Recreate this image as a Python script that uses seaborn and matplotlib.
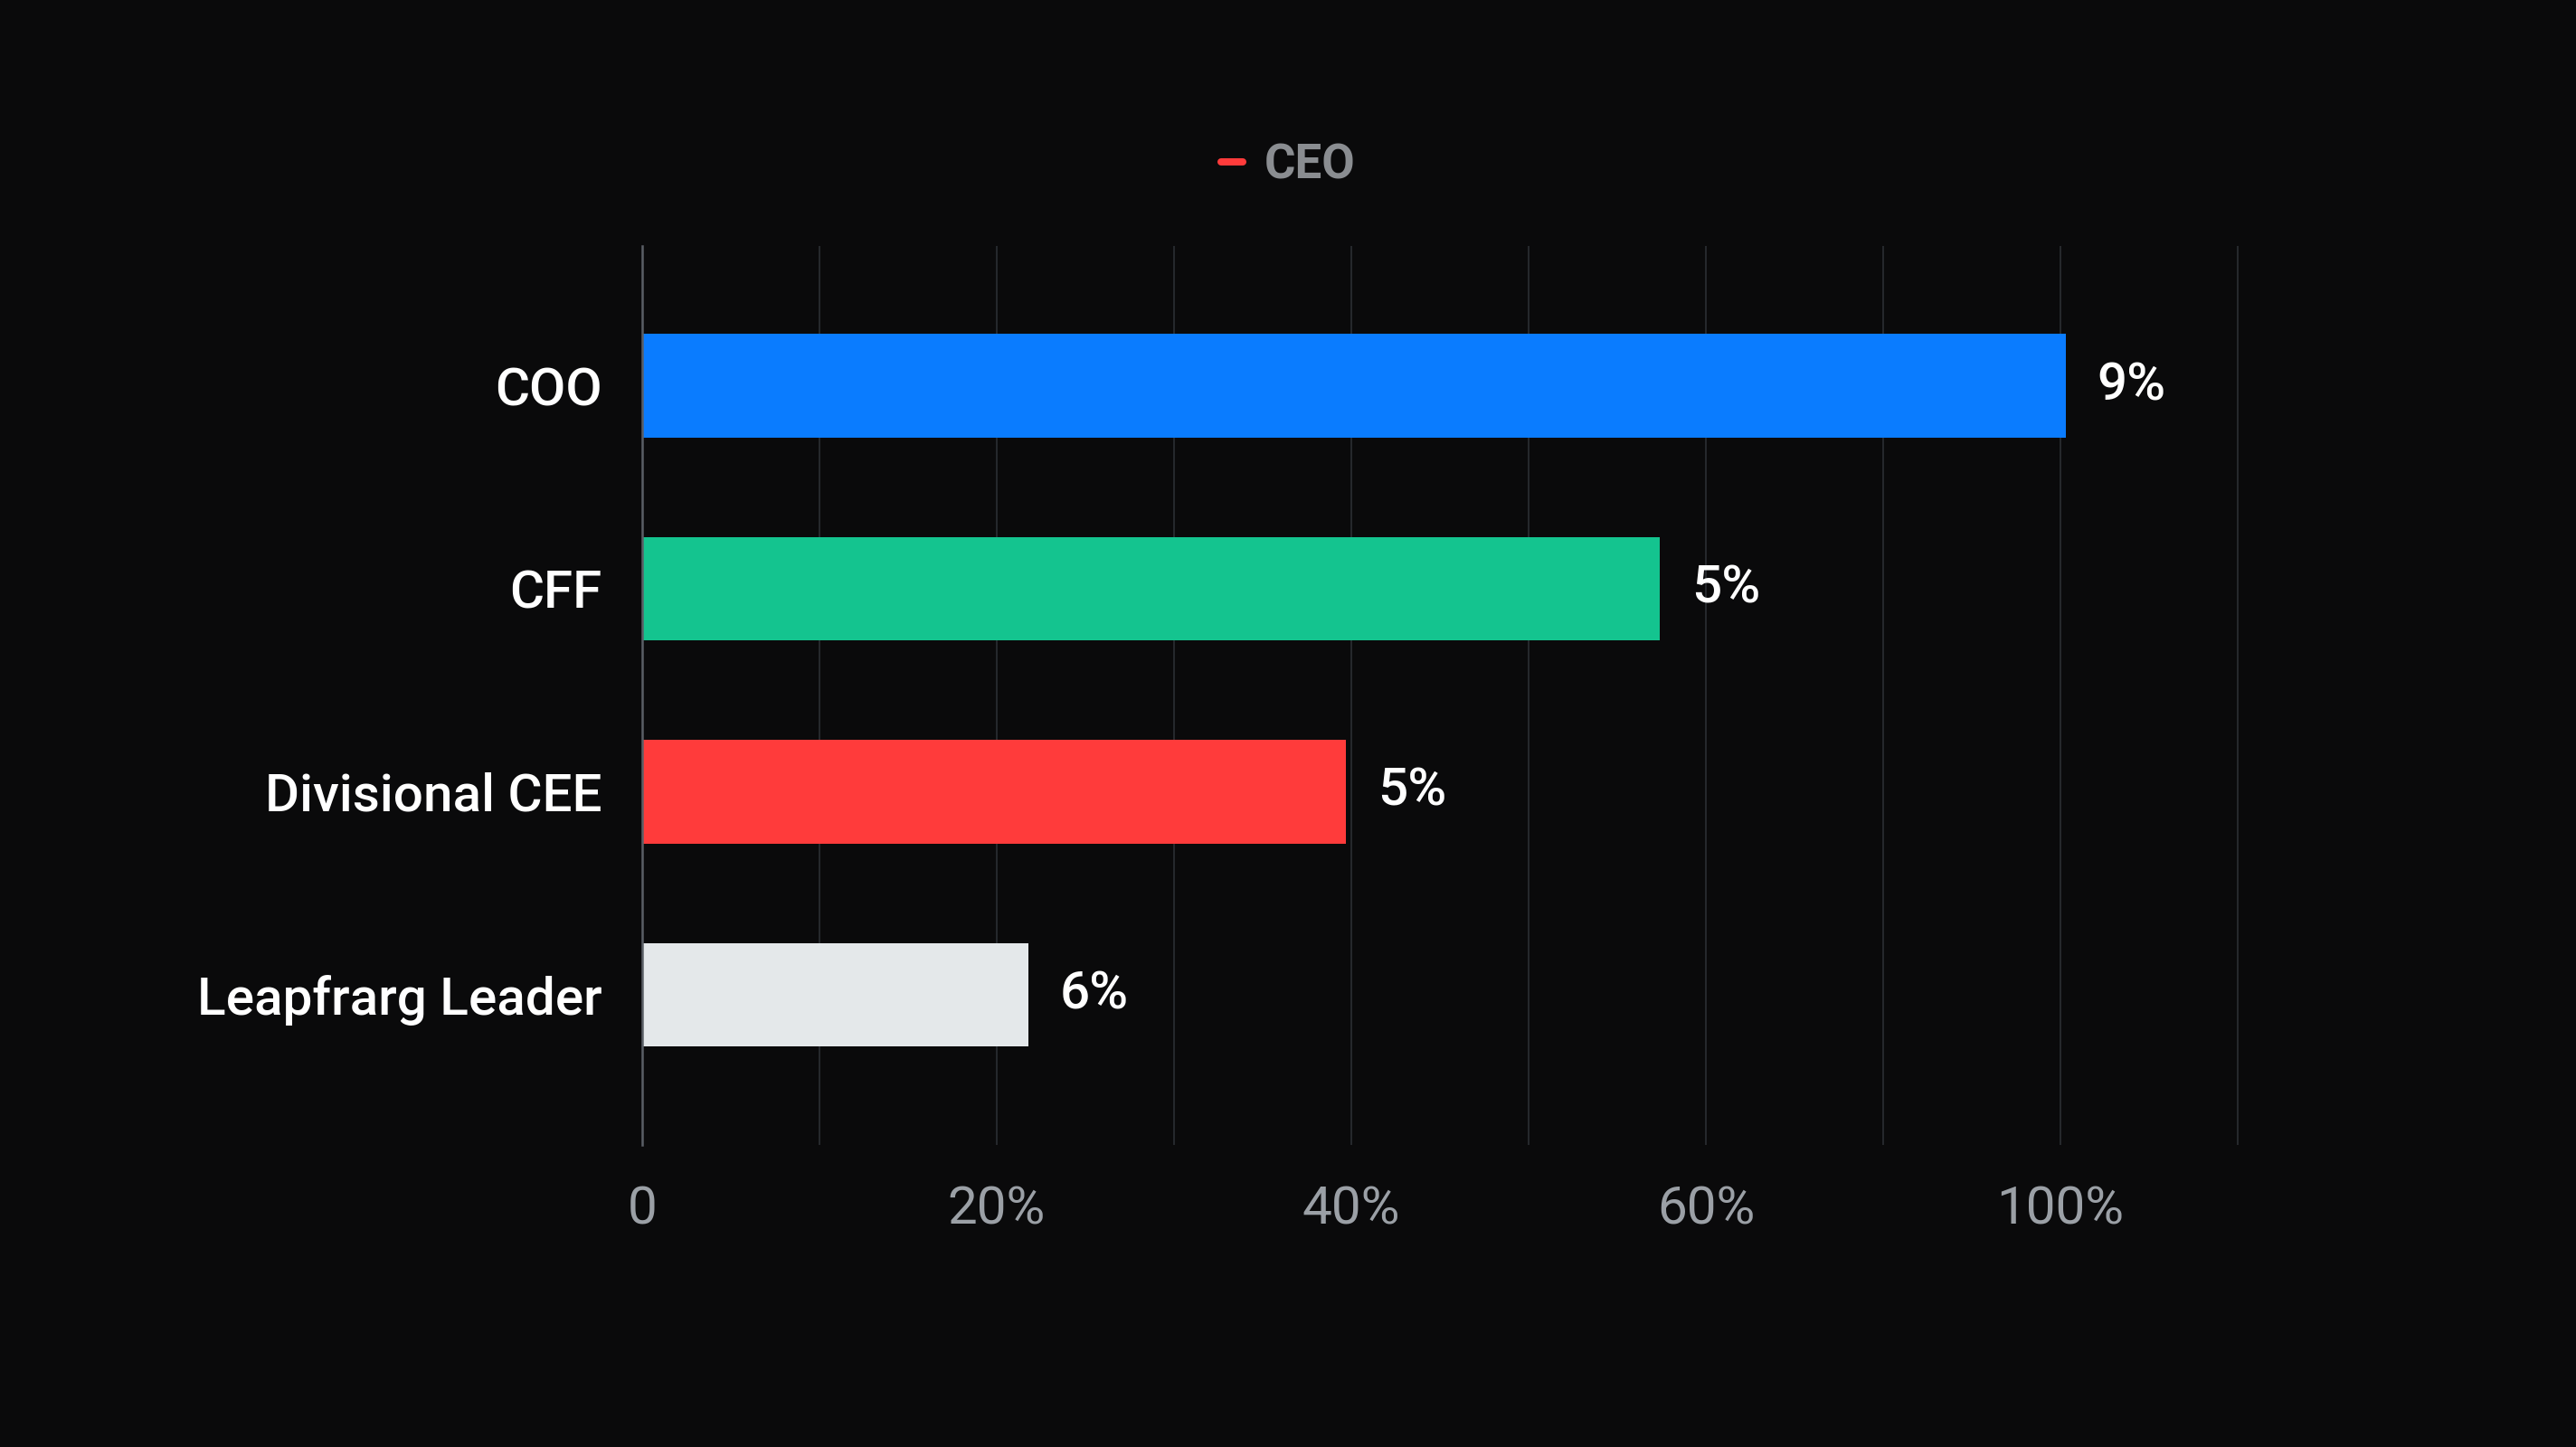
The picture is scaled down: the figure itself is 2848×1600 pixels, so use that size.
import matplotlib
matplotlib.use("Agg")
import matplotlib.pyplot as plt
from matplotlib.lines import Line2D
import seaborn as sns

# data
roles = ["COO", "CFF", "Divisional CEE", "Leapfrarg Leader"]
shares = [80.3, 57.4, 39.7, 21.8]
value_labels = ["9%", "5%", "5%", "6%"]
bar_colors = ["#0a7cff", "#14c48f", "#ff3b3b", "#e4e8ea"]
grid_ticks = [0, 10, 20, 30, 40, 50, 60, 70, 80, 90]
tick_labels = ["0", "", "20%", "", "40%", "", "60%", "", "100%", ""]
legend_label = "CEO"
legend_color = "#ff3b3b"

bg = "#0a0a0b"

sns.set_theme(style="dark")
plt.rcParams["font.family"] = ["Roboto", "DejaVu Sans"]

fig = plt.figure(figsize=(14.24, 8), dpi=200, facecolor=bg)
ax = fig.add_axes([0.2493, 0.2088, 0.6331, 0.6213])
ax.set_facecolor(bg)

sns.barplot(x=shares, y=roles, hue=roles, palette=bar_colors, legend=False,
            orient="h", width=0.51, saturation=1, linewidth=0,
            edgecolor="none", ax=ax)

ax.set_xlim(0, 92)
ax.set_ylim(3.74, -0.69)
ax.set_xticks(grid_ticks)
ax.set_xticklabels(tick_labels)
ax.grid(axis="x", color="#26292d", linewidth=0.7)
ax.grid(axis="y", visible=False)
ax.set_axisbelow(True)

for side in ["top", "right", "bottom"]:
    ax.spines[side].set_visible(False)
ax.spines["left"].set_color("#5a5f66")
ax.spines["left"].set_linewidth(0.9)

ax.tick_params(axis="x", length=0, pad=16, labelsize=21, labelcolor="#9ba0a6")
ax.tick_params(axis="y", length=0, pad=16, labelsize=21, labelcolor="white")
for lbl in ax.get_yticklabels():
    lbl.set_fontweight("medium")
ax.set_xlabel("")
ax.set_ylabel("")

for cont, txt in zip(ax.containers, value_labels):
    ax.bar_label(cont, labels=[txt], padding=12.5, color="white",
                 fontsize=21, fontweight="medium")

handle = Line2D([], [], color=legend_color, linewidth=2.9)
leg = fig.legend(handles=[handle], labels=[legend_label], loc="center",
                 bbox_to_anchor=(0.5, 1 - 183 / 1600), frameon=False,
                 handlelength=0.45, handletextpad=0.45,
                 prop={"size": 19, "weight": "bold"})
for t in leg.get_texts():
    t.set_color("#8a8d91")

fig.savefig("out.png", dpi=200, facecolor=bg)
